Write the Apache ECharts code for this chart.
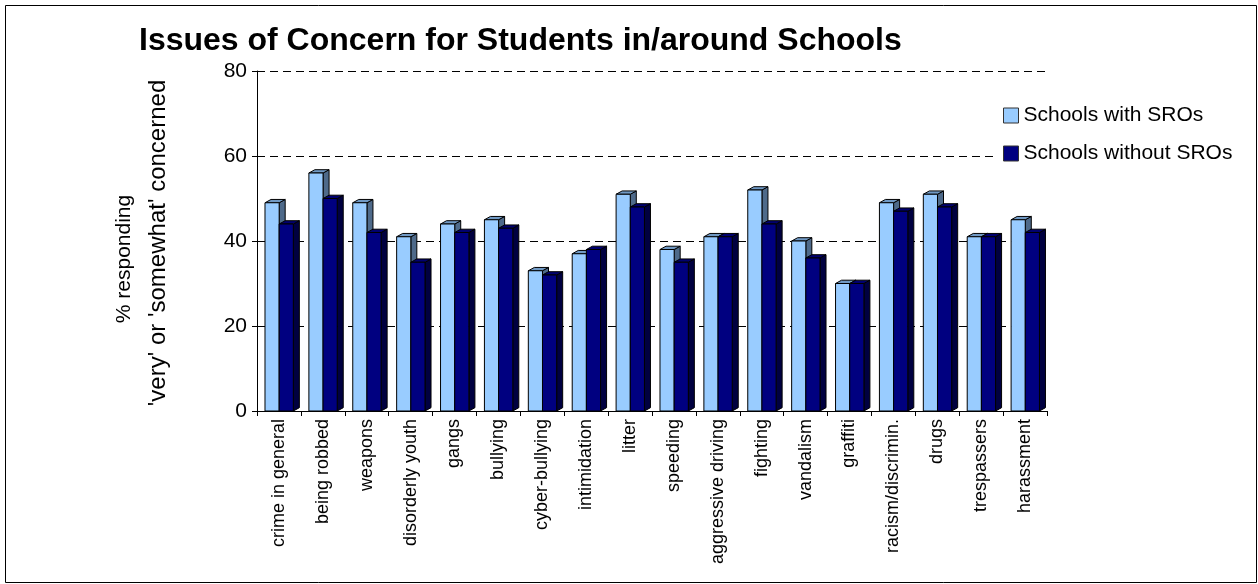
<!DOCTYPE html>
<html>
<head>
<meta charset="utf-8">
<script src="https://cdn.jsdelivr.net/npm/echarts@6/dist/echarts.min.js"></script>
<style>
  html, body { margin: 0; padding: 0; background: #fff; }
  #chart { width: 1258px; height: 584px; }
</style>
</head>
<body>
<div id="chart"></div>
<script>
const categories = ['crime in general','being robbed','weapons','disorderly youth','gangs','bullying','cyber-bullying','intimidation','litter','speeding','aggressive driving','fighting','vandalism','graffiti','racism/discrimin.','drugs','trespassers','harassment'];
const withSRO = [49,56,49,41,44,45,33,37,51,38,41,52,40,30,49,51,41,45];
const withoutSRO = [44,50,42,35,42,43,32,38,48,35,41,44,36,30,47,48,41,42];
const seriesNames = ['Schools with SROs','Schools without SROs'];
const titleText = 'Issues of Concern for Students in/around Schools';
const yAxisTitleLines = ['% responding', '\'very\' or \'somewhat\' concerned'];
const yMin = 0, yMax = 80, yStep = 20;

const FONT = '"Liberation Sans", Arial, sans-serif';
const styles = [
  { front: '#99CCFF', top: '#7099C4', side: '#4E6A8A', offset: -0.318 },
  { front: '#000080', top: '#00006E', side: '#000040', offset: 0.005 }
];

function makeRender(st) {
  return function (params, api) {
    const i = api.value(0), v = api.value(1);
    const p0 = api.coord([i, 0]);
    const p1 = api.coord([i, v]);
    const bw = api.size([1, 0])[0];
    const x = p0[0] + st.offset * bw;
    const w = 0.323 * bw;
    const dx = 0.137 * bw;
    const dy = 3.3;
    const yt = p1[1], yb = p0[1];
    const stroke = { stroke: '#000', lineWidth: 1 };
    return {
      type: 'group',
      children: [
        { type: 'polygon', shape: { points: [[x + w, yt], [x + w + dx, yt - dy], [x + w + dx, yb - dy], [x + w, yb]] },
          style: Object.assign({ fill: st.side }, stroke) },
        { type: 'polygon', shape: { points: [[x, yt], [x + w, yt], [x + w + dx, yt - dy], [x + dx, yt - dy]] },
          style: Object.assign({ fill: st.top }, stroke) },
        { type: 'rect', shape: { x: x, y: yt, width: w, height: yb - yt },
          style: Object.assign({ fill: st.front }, stroke) }
      ]
    };
  };
}

const chart = echarts.init(document.getElementById('chart'), null, { renderer: 'canvas' });
chart.setOption({
  backgroundColor: '#fff',
  animation: false,
  title: {
    text: titleText,
    left: 139, top: 23, padding: 0,
    textStyle: { fontFamily: FONT, fontSize: 32, fontWeight: 'bold', color: '#000', lineHeight: 36 }
  },
  legend: {
    orient: 'vertical',
    left: 998, top: 98,
    padding: [5, 6, 5, 5],
    backgroundColor: '#fff',
    itemWidth: 15, itemHeight: 15,
    itemGap: 13,
    textStyle: { fontFamily: FONT, fontSize: 21, color: '#000', lineHeight: 25 },
    data: [
      { name: seriesNames[0], icon: 'rect', itemStyle: { color: styles[0].front, borderColor: '#333', borderWidth: 1 } },
      { name: seriesNames[1], icon: 'rect', itemStyle: { color: styles[1].front, borderColor: '#333', borderWidth: 1 } }
    ]
  },
  grid: { left: 257, right: 211, top: 71, bottom: 173, containLabel: false },
  xAxis: {
    type: 'category',
    data: categories,
    boundaryGap: true,
    axisLine: { lineStyle: { color: '#000', width: 1 } },
    axisTick: { show: true, length: 5, lineStyle: { color: '#000' } },
    axisLabel: { rotate: 90, margin: 8, interval: 0, fontFamily: FONT, fontSize: 18, color: '#000' },
    splitLine: { show: false }
  },
  yAxis: {
    type: 'value',
    min: yMin, max: yMax, interval: yStep,
    axisLine: { show: true, lineStyle: { color: '#000', width: 1 } },
    axisTick: { show: true, length: 5, lineStyle: { color: '#000' } },
    axisLabel: { margin: 10, fontFamily: FONT, fontSize: 21, color: '#000' },
    splitLine: { show: true, lineStyle: { color: '#000', type: [8, 5], width: 1 } }
  },
  graphic: [
    { type: 'rect', shape: { x: 5.5, y: 5.5, width: 1251, height: 577 }, style: { fill: 'none', stroke: '#000', lineWidth: 1 }, silent: true, z: -10 },
    { type: 'text', x: 124, y: 259, rotation: Math.PI / 2,
      style: { text: yAxisTitleLines[0], fontFamily: FONT, fontSize: 21, fill: '#000', textAlign: 'center', textVerticalAlign: 'middle' } },
    { type: 'text', x: 158, y: 243, rotation: Math.PI / 2,
      style: { text: yAxisTitleLines[1], fontFamily: FONT, fontSize: 24, fill: '#000', textAlign: 'center', textVerticalAlign: 'middle' } }
  ],
  series: [
    { name: seriesNames[0], type: 'custom', renderItem: makeRender(styles[0]), encode: { x: 0, y: 1 },
      itemStyle: { color: styles[0].front }, data: withSRO.map((v, i) => [i, v]) },
    { name: seriesNames[1], type: 'custom', renderItem: makeRender(styles[1]), encode: { x: 0, y: 1 },
      itemStyle: { color: styles[1].front }, data: withoutSRO.map((v, i) => [i, v]) }
  ]
});
</script>
</body>
</html>
